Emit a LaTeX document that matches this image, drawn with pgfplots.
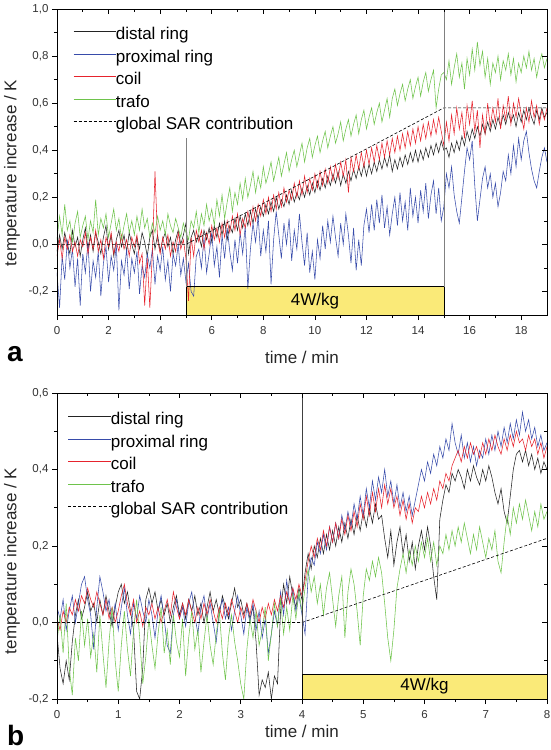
\documentclass[border=0pt]{standalone}
\usepackage{fontspec}
\setmainfont{Liberation Sans}
\usepackage{pgfplots}
\usepackage{pgfplotstable}
\pgfplotsset{compat=1.18}
\definecolor{cD}{RGB}{35,35,35}
\definecolor{cP}{RGB}{55,75,170}
\definecolor{cC}{RGB}{230,35,45}
\definecolor{cG}{RGB}{110,195,75}
\definecolor{boxy}{RGB}{250,234,120}

\pgfplotstableread{
t d p c g
0.0 -0.03 -0.12 -0.05 0.02
0.1 0.04 -0.27 0.02 0.12
0.2 -0.02 -0.05 -0.06 0.04
0.3 0.05 -0.15 0.03 0.17
0.4 0.00 0.02 -0.02 0.06
0.5 -0.04 -0.10 0.04 0.10
0.6 0.06 -0.02 -0.03 0.01
0.7 -0.01 -0.18 0.01 0.09
0.8 0.03 -0.06 -0.05 0.14
0.9 -0.05 -0.26 0.02 0.03
1.0 0.02 -0.04 -0.01 0.08
1.1 0.07 -0.12 0.05 0.12
1.2 -0.02 0.01 -0.04 0.02
1.3 0.04 -0.20 0.03 0.10
1.4 -0.03 -0.07 -0.02 0.05
1.5 0.05 -0.14 0.06 0.19
1.6 0.01 -0.03 -0.03 0.04
1.7 -0.04 -0.22 0.02 0.11
1.8 0.03 -0.08 -0.06 0.07
1.9 0.08 -0.01 0.03 0.13
2.0 -0.02 -0.16 -0.01 0.03
2.1 0.04 -0.05 0.05 0.09
2.2 -0.05 -0.11 -0.04 0.15
2.3 0.02 0.00 0.01 0.06
2.4 0.06 -0.28 -0.03 0.11
2.5 -0.01 -0.07 0.04 0.02
2.6 0.04 -0.13 -0.02 0.08
2.7 -0.03 -0.02 0.02 0.13
2.8 0.05 -0.19 -0.05 0.05
2.9 0.00 -0.06 0.03 0.10
3.0 -0.04 -0.12 -0.01 0.04
3.1 0.03 -0.03 0.04 0.12
3.2 -0.02 -0.21 -0.08 0.06
3.3 0.05 -0.09 -0.04 0.15
3.4 0.01 -0.14 -0.26 0.07
3.5 -0.05 -0.04 -0.06 0.11
3.6 0.03 -0.10 -0.27 0.03
3.7 0.06 -0.02 -0.03 0.09
3.8 -0.02 -0.17 0.31 0.05
3.9 0.04 -0.05 0.02 0.12
4.0 -0.03 -0.11 -0.04 0.06
4.1 0.02 -0.01 0.03 0.10
4.2 0.05 -0.15 -0.02 0.04
4.3 -0.01 -0.07 0.04 0.13
4.4 0.03 -0.20 -0.05 0.08
4.5 -0.04 -0.04 0.01 0.05
4.6 0.02 -0.09 -0.03 0.11
4.7 0.06 0.00 0.05 0.07
4.8 0.00 -0.13 -0.02 0.03
4.9 0.04 -0.06 0.02 0.09
5.0 0.09 -0.16 -0.06 0.05
5.1 -0.04 -0.08 -0.24 0.02
5.2 0.03 -0.20 0.03 0.10
5.3 0.06 -0.22 -0.05 0.07
5.4 0.01 -0.05 0.06 0.14
5.5 0.04 -0.02 0.01 0.05
5.6 -0.01 -0.10 0.06 0.13
5.7 0.06 0.03 -0.02 0.08
5.8 0.02 -0.12 0.05 0.17
5.9 0.07 -0.04 0.00 0.10
6.0 0.01 0.05 0.08 0.15
6.1 0.08 -0.09 0.02 0.08
6.2 0.03 -0.01 0.07 0.19
6.3 0.09 -0.14 0.01 0.12
6.4 0.04 0.04 0.09 0.21
6.5 0.10 -0.06 0.03 0.11
6.6 0.02 0.07 0.10 0.18
6.7 0.08 -0.03 0.05 0.24
6.8 0.05 -0.11 0.12 0.14
6.9 0.11 0.02 0.06 0.22
7.0 0.06 -0.08 0.13 0.17
7.1 0.12 0.05 0.04 0.26
7.2 0.07 -0.04 0.11 0.19
7.3 0.13 0.08 0.07 0.28
7.4 0.08 -0.19 0.14 0.20
7.5 0.14 -0.02 0.08 0.25
7.6 0.09 0.09 0.16 0.31
7.7 0.15 0.01 0.10 0.22
7.8 0.11 0.12 0.17 0.29
7.9 0.16 -0.05 0.12 0.24
8.0 0.12 0.06 0.19 0.33
8.1 0.17 -0.03 0.13 0.26
8.2 0.13 0.10 0.20 0.30
8.3 0.18 -0.17 0.14 0.35
8.4 0.14 0.02 0.21 0.27
8.5 0.20 0.14 0.15 0.32
8.6 0.15 0.04 0.22 0.37
8.7 0.19 -0.06 0.16 0.29
8.8 0.16 0.09 0.24 0.34
8.9 0.21 0.00 0.18 0.39
9.0 0.17 0.11 0.23 0.31
9.1 0.23 -0.07 0.19 0.36
9.2 0.18 0.06 0.26 0.40
9.3 0.22 -0.02 0.20 0.33
9.4 0.19 0.13 0.27 0.38
9.5 0.24 0.01 0.21 0.43
9.6 0.20 -0.09 0.29 0.35
9.7 0.25 0.05 0.22 0.41
9.8 0.21 -0.12 0.28 0.45
9.9 0.26 -0.03 0.23 0.37
10.0 0.22 -0.15 0.30 0.42
10.1 0.27 0.02 0.24 0.46
10.2 0.23 -0.06 0.31 0.39
10.3 0.28 0.08 0.25 0.44
10.4 0.24 -0.02 0.32 0.48
10.5 0.29 0.10 0.26 0.41
10.6 0.25 0.01 0.33 0.46
10.7 0.30 0.12 0.27 0.50
10.8 0.26 0.03 0.34 0.43
10.9 0.31 -0.05 0.28 0.47
11.0 0.25 0.09 0.35 0.52
11.1 0.30 0.00 0.29 0.44
11.2 0.26 0.13 0.36 0.49
11.3 0.31 0.04 0.22 0.53
11.4 0.27 -0.08 0.37 0.46
11.5 0.32 0.07 0.31 0.51
11.6 0.28 -0.11 0.38 0.55
11.7 0.33 0.02 0.32 0.47
11.8 0.29 -0.09 0.39 0.53
11.9 0.34 0.08 0.33 0.57
12.0 0.29 0.15 0.40 0.49
12.1 0.34 0.05 0.34 0.54
12.2 0.30 0.17 0.41 0.58
12.3 0.35 0.06 0.35 0.51
12.4 0.31 0.19 0.42 0.56
12.5 0.36 0.09 0.36 0.60
12.6 0.32 0.21 0.43 0.52
12.7 0.37 0.07 0.37 0.57
12.8 0.33 0.16 0.44 0.62
12.9 0.38 0.04 0.38 0.54
13.0 0.31 0.13 0.45 0.62
13.1 0.36 0.20 0.39 0.66
13.2 0.32 0.08 0.46 0.59
13.3 0.37 0.22 0.40 0.64
13.4 0.33 0.10 0.47 0.68
13.5 0.38 0.18 0.41 0.61
13.6 0.34 0.06 0.48 0.66
13.7 0.39 0.24 0.42 0.70
13.8 0.35 0.12 0.49 0.62
13.9 0.40 0.20 0.43 0.67
14.0 0.35 0.09 0.50 0.71
14.1 0.40 0.23 0.44 0.63
14.2 0.36 0.14 0.51 0.69
14.3 0.41 0.26 0.45 0.73
14.4 0.37 0.11 0.52 0.65
14.5 0.42 0.21 0.46 0.70
14.6 0.38 0.27 0.53 0.74
14.7 0.43 0.13 0.47 0.58
14.8 0.39 0.24 0.54 0.66
14.9 0.44 0.10 0.48 0.72
15.0 0.40 0.16 0.42 0.73
15.1 0.41 0.30 0.52 0.70
15.2 0.37 0.24 0.44 0.78
15.3 0.43 0.33 0.55 0.68
15.4 0.39 0.21 0.47 0.75
15.5 0.44 0.14 0.58 0.81
15.6 0.40 0.09 0.49 0.71
15.7 0.46 0.20 0.56 0.77
15.8 0.42 0.31 0.45 0.66
15.9 0.48 0.41 0.59 0.79
16.0 0.44 0.36 0.51 0.72
16.1 0.49 0.44 0.61 0.83
16.2 0.45 0.25 0.48 0.74
16.3 0.50 0.10 0.57 0.86
16.4 0.46 0.19 0.41 0.76
16.5 0.51 0.28 0.55 0.82
16.6 0.47 0.33 0.47 0.71
16.7 0.52 0.24 0.60 0.79
16.8 0.48 0.30 0.50 0.68
16.9 0.53 0.20 0.58 0.77
17.0 0.49 0.26 0.52 0.73
17.1 0.54 0.16 0.62 0.80
17.2 0.50 0.22 0.49 0.70
17.3 0.55 0.31 0.59 0.78
17.4 0.51 0.27 0.53 0.74
17.5 0.56 0.38 0.63 0.81
17.6 0.52 0.30 0.51 0.72
17.7 0.55 0.42 0.60 0.79
17.8 0.50 0.33 0.54 0.69
17.9 0.56 0.45 0.62 0.77
18.0 0.52 0.36 0.55 0.73
18.1 0.57 0.44 0.49 0.80
18.2 0.53 0.48 0.58 0.75
18.3 0.58 0.39 0.52 0.82
18.4 0.54 0.32 0.61 0.74
18.5 0.51 0.27 0.54 0.79
18.6 0.57 0.24 0.59 0.71
18.7 0.53 0.31 0.51 0.77
18.8 0.58 0.37 0.57 0.81
18.9 0.54 0.41 0.53 0.75
19.0 0.56 0.35 0.58 0.79
}\tabA

\pgfplotstableread{
t d p c g
0.00 -0.03 0.04 0.01 -0.05
0.05 -0.12 0.01 -0.02 0.02
0.10 -0.16 0.06 0.03 -0.08
0.15 -0.10 -0.02 0.00 0.05
0.20 -0.15 0.03 0.04 -0.12
0.25 -0.05 0.07 0.02 -0.19
0.30 0.02 0.00 0.06 -0.04
0.35 0.06 0.05 0.03 -0.10
0.40 0.01 0.10 0.07 0.03
0.45 0.04 0.12 0.05 -0.06
0.50 0.08 0.06 0.09 0.01
0.55 0.03 0.02 0.06 -0.09
0.60 0.05 -0.07 0.04 -0.03
0.65 0.00 0.04 0.08 -0.13
0.70 0.06 0.12 0.05 0.02
0.75 0.02 0.08 0.02 -0.08
0.80 0.07 0.03 0.06 -0.17
0.85 0.03 0.06 0.01 -0.05
0.90 -0.01 0.00 0.04 0.04
0.95 0.04 0.05 0.00 -0.10
1.00 0.08 -0.02 0.03 -0.18
1.05 0.10 0.04 0.07 -0.06
1.10 0.05 0.09 0.10 0.03
1.15 0.08 0.02 0.05 -0.07
1.20 0.03 -0.03 0.02 -0.14
1.25 -0.02 0.05 0.06 -0.02
1.30 -0.18 0.01 0.00 0.06
1.35 -0.20 0.07 0.03 -0.04
1.40 -0.12 0.03 -0.01 -0.16
1.45 0.06 0.00 0.04 -0.09
1.50 0.09 0.06 0.02 0.01
1.55 0.05 0.02 0.05 -0.06
1.60 0.08 -0.04 0.01 -0.12
1.65 0.03 0.03 0.04 -0.03
1.70 0.06 0.07 0.00 0.04
1.75 0.02 0.01 0.03 -0.08
1.80 0.05 -0.06 0.06 -0.02
1.85 0.00 -0.08 0.02 -0.11
1.90 0.04 0.02 0.08 0.02
1.95 0.07 0.06 0.04 -0.05
2.00 0.02 0.01 0.01 -0.09
2.05 0.05 0.04 0.05 0.01
2.10 0.01 -0.01 0.02 -0.14
2.15 0.06 0.05 0.06 -0.04
2.20 0.03 0.08 0.03 0.03
2.25 0.07 0.02 0.00 -0.07
2.30 0.02 -0.03 0.04 -0.02
2.35 0.05 0.04 0.01 -0.13
2.40 0.00 0.07 0.05 -0.05
2.45 0.04 0.01 0.02 0.02
2.50 0.08 0.05 0.06 -0.06
2.55 0.03 0.00 0.03 -0.11
2.60 0.06 -0.05 0.00 -0.03
2.65 0.02 0.03 0.04 0.03
2.70 0.07 0.06 0.01 -0.08
2.75 0.04 0.01 0.05 -0.15
2.80 0.01 0.04 0.02 -0.04
2.85 0.05 -0.02 0.06 0.02
2.90 0.09 0.03 0.03 -0.05
2.95 0.04 0.07 0.00 -0.10
3.00 0.06 0.02 0.04 -0.16
3.05 0.02 -0.03 0.01 -0.20
3.10 0.05 0.04 0.05 -0.07
3.15 0.01 0.00 0.02 0.01
3.20 0.04 0.05 0.06 -0.04
3.25 -0.05 -0.02 0.03 0.03
3.30 -0.19 0.03 0.00 -0.06
3.35 -0.15 -0.04 0.04 -0.02
3.40 -0.17 0.01 0.01 0.04
3.45 -0.13 -0.08 0.05 -0.10
3.50 -0.20 -0.03 0.02 -0.03
3.55 -0.14 0.03 0.06 0.05
3.60 -0.16 -0.01 0.03 -0.01
3.65 0.03 0.08 0.07 0.06
3.70 0.10 0.02 0.04 -0.03
3.75 0.05 0.11 0.08 0.04
3.80 0.12 0.05 0.05 -0.02
3.85 0.07 0.09 0.09 0.07
3.90 0.04 0.03 0.06 0.01
3.95 0.09 0.07 0.10 0.08
4.00 0.06 0.02 0.07 0.03
4.05 0.13 -0.03 0.11 0.09
4.10 0.18 0.12 0.16 0.14
4.15 0.14 0.17 0.20 0.08
4.20 0.20 0.15 0.17 0.12
4.25 0.17 0.21 0.22 0.05
4.30 0.22 0.18 0.19 0.10
4.35 0.18 0.23 0.24 0.02
4.40 0.23 0.19 0.20 0.09
4.45 0.19 0.25 0.25 0.13
4.50 0.24 0.21 0.21 0.06
4.55 0.20 0.26 0.26 -0.01
4.60 0.25 0.22 0.22 0.07
4.65 0.21 0.28 0.27 0.12
4.70 0.26 0.24 0.23 -0.04
4.75 0.22 0.29 0.28 0.08
4.80 0.27 0.25 0.24 0.14
4.85 0.23 0.31 0.29 0.10
4.90 0.28 0.27 0.25 0.03
4.95 0.24 0.33 0.31 -0.06
5.00 0.29 0.28 0.27 0.07
5.05 0.25 0.35 0.33 0.14
5.10 0.30 0.30 0.28 0.11
5.15 0.26 0.37 0.34 0.16
5.20 0.31 0.32 0.29 0.12
5.25 0.27 0.38 0.35 0.17
5.30 0.28 0.34 0.30 0.13
5.35 0.22 0.40 0.36 0.05
5.40 0.17 0.33 0.31 -0.04
5.45 0.24 0.37 0.35 -0.10
5.50 0.15 0.31 0.30 -0.02
5.55 0.21 0.36 0.33 0.09
5.60 0.25 0.30 0.28 0.14
5.65 0.18 0.34 0.32 0.18
5.70 0.23 0.29 0.27 0.13
5.75 0.16 0.33 0.31 0.19
5.80 0.21 0.28 0.26 0.15
5.85 0.14 0.32 0.30 0.20
5.90 0.20 0.36 0.29 0.16
5.95 0.24 0.40 0.33 0.21
6.00 0.19 0.37 0.30 0.17
6.05 0.25 0.42 0.34 0.22
6.10 0.20 0.39 0.31 0.16
6.15 0.12 0.44 0.35 0.21
6.20 0.06 0.41 0.32 0.15
6.25 0.27 0.46 0.37 0.20
6.30 0.32 0.43 0.35 0.18
6.35 0.36 0.48 0.39 0.23
6.40 0.34 0.45 0.37 0.19
6.45 0.39 0.52 0.41 0.24
6.50 0.37 0.47 0.43 0.20
6.55 0.40 0.44 0.45 0.25
6.60 0.38 0.49 0.42 0.21
6.65 0.35 0.43 0.46 0.26
6.70 0.40 0.47 0.43 0.22
6.75 0.37 0.42 0.47 0.18
6.80 0.41 0.46 0.44 0.23
6.85 0.38 0.41 0.46 0.19
6.90 0.36 0.45 0.43 0.25
6.95 0.40 0.43 0.47 0.21
7.00 0.37 0.48 0.44 0.17
7.05 0.41 0.44 0.48 0.22
7.10 0.38 0.49 0.45 0.19
7.15 0.34 0.45 0.49 0.24
7.20 0.31 0.50 0.46 0.16
7.25 0.35 0.46 0.44 0.13
7.30 0.29 0.51 0.48 0.21
7.35 0.26 0.47 0.45 0.28
7.40 0.33 0.52 0.49 0.23
7.45 0.40 0.48 0.46 0.30
7.50 0.44 0.53 0.50 0.26
7.55 0.45 0.49 0.47 0.31
7.60 0.42 0.55 0.48 0.27
7.65 0.45 0.50 0.45 0.32
7.70 0.41 0.53 0.49 0.28
7.75 0.44 0.48 0.46 0.24
7.80 0.40 0.51 0.48 0.29
7.85 0.43 0.46 0.44 0.25
7.90 0.39 0.49 0.47 0.31
7.95 0.42 0.45 0.43 0.27
8.00 0.40 0.47 0.46 0.29
}\tabB

\pgfplotsset{
  myax/.style={
    scale only axis, width=490pt, height=306pt,
    axis line style={line width=0.7pt},
    tick align=outside, xtick pos=left, ytick pos=left,
    major tick length=5pt, minor tick length=3pt,
    every tick/.style={black, line width=0.6pt},
    tick label style={font=\fontsize{11.5}{13}\selectfont, text=black!80},
    xticklabel style={yshift=-3pt},
    /pgf/number format/assume math mode=true,
    yticklabel style={/pgf/number format/.cd, fixed, fixed zerofill, precision=1, use comma},
    label style={font=\fontsize{17}{20}\selectfont, text=black!85},
    xlabel={time / min}, ylabel={temperature increase / K},
    legend cell align=left,
    legend style={draw=none, fill=none, font=\fontsize{17}{20}\selectfont, row sep=6.5pt,
      nodes={inner sep=0pt, text height=12.5pt, text depth=3.5pt}, anchor=north west,
      /tikz/every even column/.append style={column sep=6pt}},
    legend image code/.code={\draw[#1] (0pt,3.5pt) -- (42pt,3.5pt);},
    every axis plot/.append style={line width=0.55pt},
  },
  mirr/.style={
    scale only axis, width=490pt, height=306pt,
    axis line style={line width=0.7pt},
    tick align=inside, xtick pos=right, ytick pos=right,
    major tick length=5pt, minor tick length=3pt,
    every tick/.style={black, line width=0.6pt},
    xticklabels={}, yticklabels={},
  },
}

\begin{document}
\begin{tikzpicture}
\useasboundingbox (0,0) rectangle (551pt,-750pt);

% ---------- panel a ----------
\begin{axis}[myax, at={(57pt,-315pt)}, anchor=south west,
  xmin=0, xmax=19, ymin=-0.3, ymax=1.0,
  xtick={0,2,...,18}, minor x tick num=1,
  ytick={-0.2,0,0.2,0.4,0.6,0.8,1.0}, minor y tick num=1,
  xlabel style={at={(axis description cs:0.5,0)}, anchor=center, yshift=-42pt},
  ylabel style={at={(axis description cs:-0.0918,0.464)}, anchor=center},
  legend style={at={(0,1)}, xshift=13pt, yshift=-16pt}]
\fill[boxy] (5,-0.3) rectangle (15,-0.18);
\addplot[cD] table[x=t, y=d] {\tabA};
\addlegendentry{distal ring}
\addplot[cP] table[x=t, y=p] {\tabA};
\addlegendentry{proximal ring}
\addplot[cC] table[x=t, y=c] {\tabA};
\addlegendentry{coil}
\addplot[cG] table[x=t, y=g] {\tabA};
\addlegendentry{trafo}
\addplot[black, dash pattern=on 3pt off 2pt, line width=0.6pt] coordinates {(0,0) (5,0) (15,0.58) (19,0.58)};
\addlegendentry{global SAR contribution}
\draw[black, line width=0.6pt] (5,-0.3) rectangle (15,-0.18);
\node[font=\fontsize{17}{20}\selectfont] at (10,-0.24) {4W/kg};
\draw[gray, line width=0.6pt] (5,0.45) -- (5,-0.18);
\draw[gray, line width=0.6pt] (15,1.0) -- (15,-0.18);
\end{axis}
\begin{axis}[mirr, at={(57pt,-315pt)}, anchor=south west,
  xmin=0, xmax=19, ymin=-0.3, ymax=1.0,
  xtick={0,2,...,18}, minor x tick num=1,
  ytick={-0.2,0,0.2,0.4,0.6,0.8,1.0}, minor y tick num=1]
\end{axis}

% ---------- panel b ----------
\begin{axis}[myax, at={(57pt,-699pt)}, anchor=south west,
  xmin=0, xmax=8, ymin=-0.2, ymax=0.6,
  xtick={0,1,...,8}, minor x tick num=1,
  ytick={-0.2,0,0.2,0.4,0.6}, minor y tick num=1,
  xlabel style={at={(axis description cs:0.5,0)}, anchor=center, yshift=-32pt},
  ylabel style={at={(axis description cs:-0.0918,0.451)}, anchor=center},
  legend style={at={(0,1)}, xshift=8pt, yshift=-17pt}]
\fill[boxy] (4,-0.2) rectangle (8,-0.135);
\addplot[cD] table[x=t, y=d] {\tabB};
\addlegendentry{distal ring}
\addplot[cP] table[x=t, y=p] {\tabB};
\addlegendentry{proximal ring}
\addplot[cC] table[x=t, y=c] {\tabB};
\addlegendentry{coil}
\addplot[cG] table[x=t, y=g] {\tabB};
\addlegendentry{trafo}
\addplot[black, dash pattern=on 3pt off 2pt, line width=0.6pt] coordinates {(0,0) (4,0) (8,0.22)};
\addlegendentry{global SAR contribution}
\draw[black, line width=0.6pt] (4,-0.2) rectangle (8,-0.135);
\node[font=\fontsize{17}{20}\selectfont] at (6,-0.1675) {4W/kg};
\draw[black!75, line width=0.6pt] (4,0.6) -- (4,-0.135);
\end{axis}
\begin{axis}[mirr, at={(57pt,-699pt)}, anchor=south west,
  xmin=0, xmax=8, ymin=-0.2, ymax=0.6,
  xtick={0,1,...,8}, minor x tick num=1,
  ytick={-0.2,0,0.2,0.4,0.6}, minor y tick num=1]
\end{axis}

\node[font=\bfseries\fontsize{28}{28}\selectfont, anchor=base west, inner sep=0pt] at (7pt,-361pt) {a};
\node[font=\bfseries\fontsize{28}{28}\selectfont, anchor=base west, inner sep=0pt] at (7pt,-745pt) {b};
\end{tikzpicture}
\end{document}
